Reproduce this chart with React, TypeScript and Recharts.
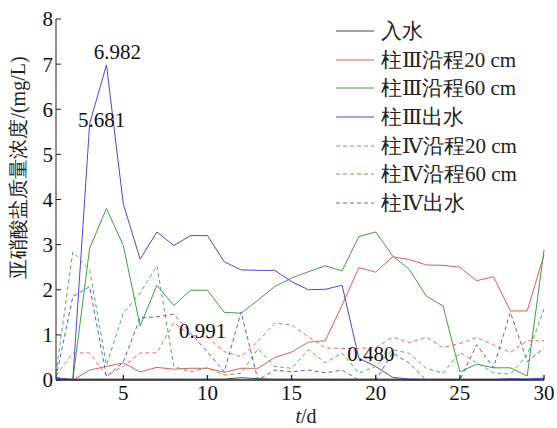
import { LineChart, Line, XAxis, YAxis, Legend, ReferenceDot } from "recharts";

// t/d
const days = [1, 2, 3, 4, 5, 6, 7, 8, 9, 10, 11, 12, 13, 14, 15, 16, 17, 18, 19, 20, 21, 22, 23, 24, 25, 26, 27, 28, 29, 30];

// nitrite concentration, mg/L
const inflow = [0.03, 0.02, 0.02, 0.02, 0.02, 0.02, 0.02, 0.02, 0.02, 0.02, 0.02, 0.05, 0.03, 0.02, 0.02, 0.02, 0.02, 0.02, 0.02, 0.02, 0.02, 0.02, 0.02, 0.02, 0.02, 0.02, 0.02, 0.02, 0.02, 0.03];
const col3At20 = [0.05, 0.0, 0.22, 0.3, 0.38, 0.18, 0.28, 0.24, 0.26, 0.26, 0.17, 0.26, 0.26, 0.5, 0.62, 0.84, 0.87, 1.66, 2.49, 2.39, 2.73, 2.67, 2.55, 2.54, 2.5, 2.2, 2.29, 1.53, 1.53, 2.77];
const col3At60 = [0.05, 0.0, 2.92, 3.8, 2.98, 1.2, 2.1, 1.65, 1.99, 1.99, 1.5, 1.48, 1.77, 2.07, 2.26, 2.4, 2.53, 2.42, 3.18, 3.28, 2.75, 2.45, 1.86, 1.64, 0.18, 0.35, 0.27, 0.27, 0.09, 2.88];
const col3Out = [0.05, 0.0, 5.681, 6.982, 3.9, 2.68, 3.28, 2.98, 3.2, 3.2, 2.62, 2.44, 2.43, 2.43, 2.18, 2.0, 2.01, 2.1, 0.48, 0.3, 0.06, 0.02, 0.01, 0.01, 0.0, 0.01, 0.01, 0.03, 0.02, 0.04];
const col4At20 = [0.1, 0.6, 0.6, 0.1, 0.3, 0.6, 0.6, 1.27, 0.991, 0.95, 0.63, 0.52, 0.85, 1.26, 1.22, 0.96, 0.71, 0.7, 0.7, 0.72, 0.95, 0.83, 0.95, 0.72, 0.81, 0.94, 0.78, 0.61, 0.87, 0.87];
const col4At60 = [0.15, 2.84, 2.44, 0.33, 1.48, 1.93, 2.53, 0.3, 0.18, 0.27, 0.11, 0.15, 0.69, 0.3, 0.26, 0.67, 0.38, 0.6, 0.15, 0.3, 0.67, 0.59, 0.26, 0.15, 0.61, 0.38, 0.16, 0.13, 0.55, 1.57];
const col4Out = [0.05, 1.85, 2.07, 0.07, 0.4, 1.38, 1.4, 1.46, 1.04, 0.62, 0.18, 1.51, 0.0, 0.22, 0.18, 0.22, 0.16, 0.22, 0.0, 0.0, 0.6, 0.37, 0.0, 0.0, 0.0, 0.78, 0.27, 1.5, 0.41, 0.7];

const xTicks = [5, 10, 15, 20, 25, 30];
const yTicks = [0, 1, 2, 3, 4, 5, 6, 7, 8];

const SERIES = [
  { key: "inflow", name: "入水", values: inflow, color: "#444444", dashed: false },
  { key: "col3At20", name: "柱Ⅲ沿程20 cm", values: col3At20, color: "#e65a5a", dashed: false },
  { key: "col3At60", name: "柱Ⅲ沿程60 cm", values: col3At60, color: "#3f9f3f", dashed: false },
  { key: "col3Out", name: "柱Ⅲ出水", values: col3Out, color: "#4848e0", dashed: false },
  { key: "col4At20", name: "柱Ⅳ沿程20 cm", values: col4At20, color: "#ea6a6a", dashed: true },
  { key: "col4At60", name: "柱Ⅳ沿程60 cm", values: col4At60, color: "#55b055", dashed: true },
  { key: "col4Out", name: "柱Ⅳ出水", values: col4Out, color: "#5a5ae6", dashed: true },
];

// values written next to some points
const NOTES = [
  { day: 3, value: 5.681, text: "5.681", above: false },
  { day: 4, value: 6.982, text: "6.982", above: true },
  { day: 9, value: 0.991, text: "0.991", above: false },
  { day: 19, value: 0.48, text: "0.480", above: false },
];

const data = days.map((d, i) => {
  const row: Record<string, number> = { day: d };
  SERIES.forEach((s) => (row[s.key] = s.values[i]));
  return row;
});

const FONT = "Liberation Serif, DejaVu Serif, serif";
const DASH = "4 3";

function NoteLabel({ viewBox, text, above }: any) {
  const cx = viewBox.x + viewBox.width / 2;
  const cy = viewBox.y + viewBox.height / 2;
  return (
    <text
      x={cx + (above ? 11 : 12)}
      y={cy + (above ? -6 : 3)}
      textAnchor="middle"
      fontSize={21}
      fontFamily={FONT}
      fill="#111"
    >
      {text}
    </text>
  );
}

function LegendBox() {
  return (
    <div style={{ fontFamily: FONT, fontSize: 21, color: "#222" }}>
      {SERIES.map((s) => (
        <div key={s.key} style={{ height: 28.6, display: "flex", alignItems: "center", whiteSpace: "nowrap" }}>
          <svg width={38} height={4} style={{ marginRight: 7 }}>
            <line x1={0} y1={2} x2={38} y2={2} stroke={s.color} strokeWidth={1} strokeDasharray={s.dashed ? DASH : undefined} />
          </svg>
          <span>{s.name}</span>
        </div>
      ))}
    </div>
  );
}

function YTitle({ viewBox }: any) {
  const x = viewBox.x + 18;
  const y = viewBox.y + viewBox.height / 2 - 32;
  return (
    <text x={x} y={y} transform={`rotate(-90 ${x} ${y})`} textAnchor="middle" dominantBaseline="central" fontSize={20} fontFamily={FONT} fill="#222">
      亚硝酸盐质量浓度/(mg/L)
    </text>
  );
}

function XTitle({ viewBox }: any) {
  return (
    <text x={viewBox.x + viewBox.width / 2 + 6} y={viewBox.y + 43} textAnchor="middle" fontSize={20} fontFamily={FONT} fill="#222">
      <tspan fontStyle="italic">t</tspan>/d
    </text>
  );
}

const tickStyle = { fill: "#111", fontSize: 21, fontFamily: FONT };

export default function App() {
  return (
    <div style={{ position: "absolute", left: 0, top: 0, background: "#fff" }}>
      <LineChart width={557} height={428} data={data} margin={{ top: 19, right: 13, bottom: 0, left: 0 }}>
        <XAxis
          dataKey="day"
          type="number"
          domain={[1, 30]}
          ticks={xTicks}
          height={48}
          tick={tickStyle}
          tickSize={-5}
          tickMargin={10}
          stroke="#222"
          strokeWidth={1.3}
          label={<XTitle />}
        />
        <YAxis
          type="number"
          domain={[0, 8]}
          ticks={yTicks}
          width={56}
          tick={tickStyle}
          tickSize={-5}
          tickMargin={8}
          stroke="#222"
          strokeWidth={1}
          allowDataOverflow
          label={<YTitle />}
        />
        <Legend layout="vertical" align="center" verticalAlign="middle" content={<LegendBox />} wrapperStyle={{ left: 336, top: 17, width: 221, height: 205 }} />
        {SERIES.map((s) => (
          <Line
            key={s.key}
            dataKey={s.key}
            name={s.name}
            type="linear"
            stroke={s.color}
            strokeWidth={1}
            strokeDasharray={s.dashed ? DASH : undefined}
            dot={false}
            activeDot={false}
            isAnimationActive={false}
          />
        ))}
        {NOTES.map((n) => (
          <ReferenceDot key={n.text} x={n.day} y={n.value} r={0} fill="none" stroke="none" label={<NoteLabel text={n.text} above={n.above} />} />
        ))}
      </LineChart>
    </div>
  );
}
